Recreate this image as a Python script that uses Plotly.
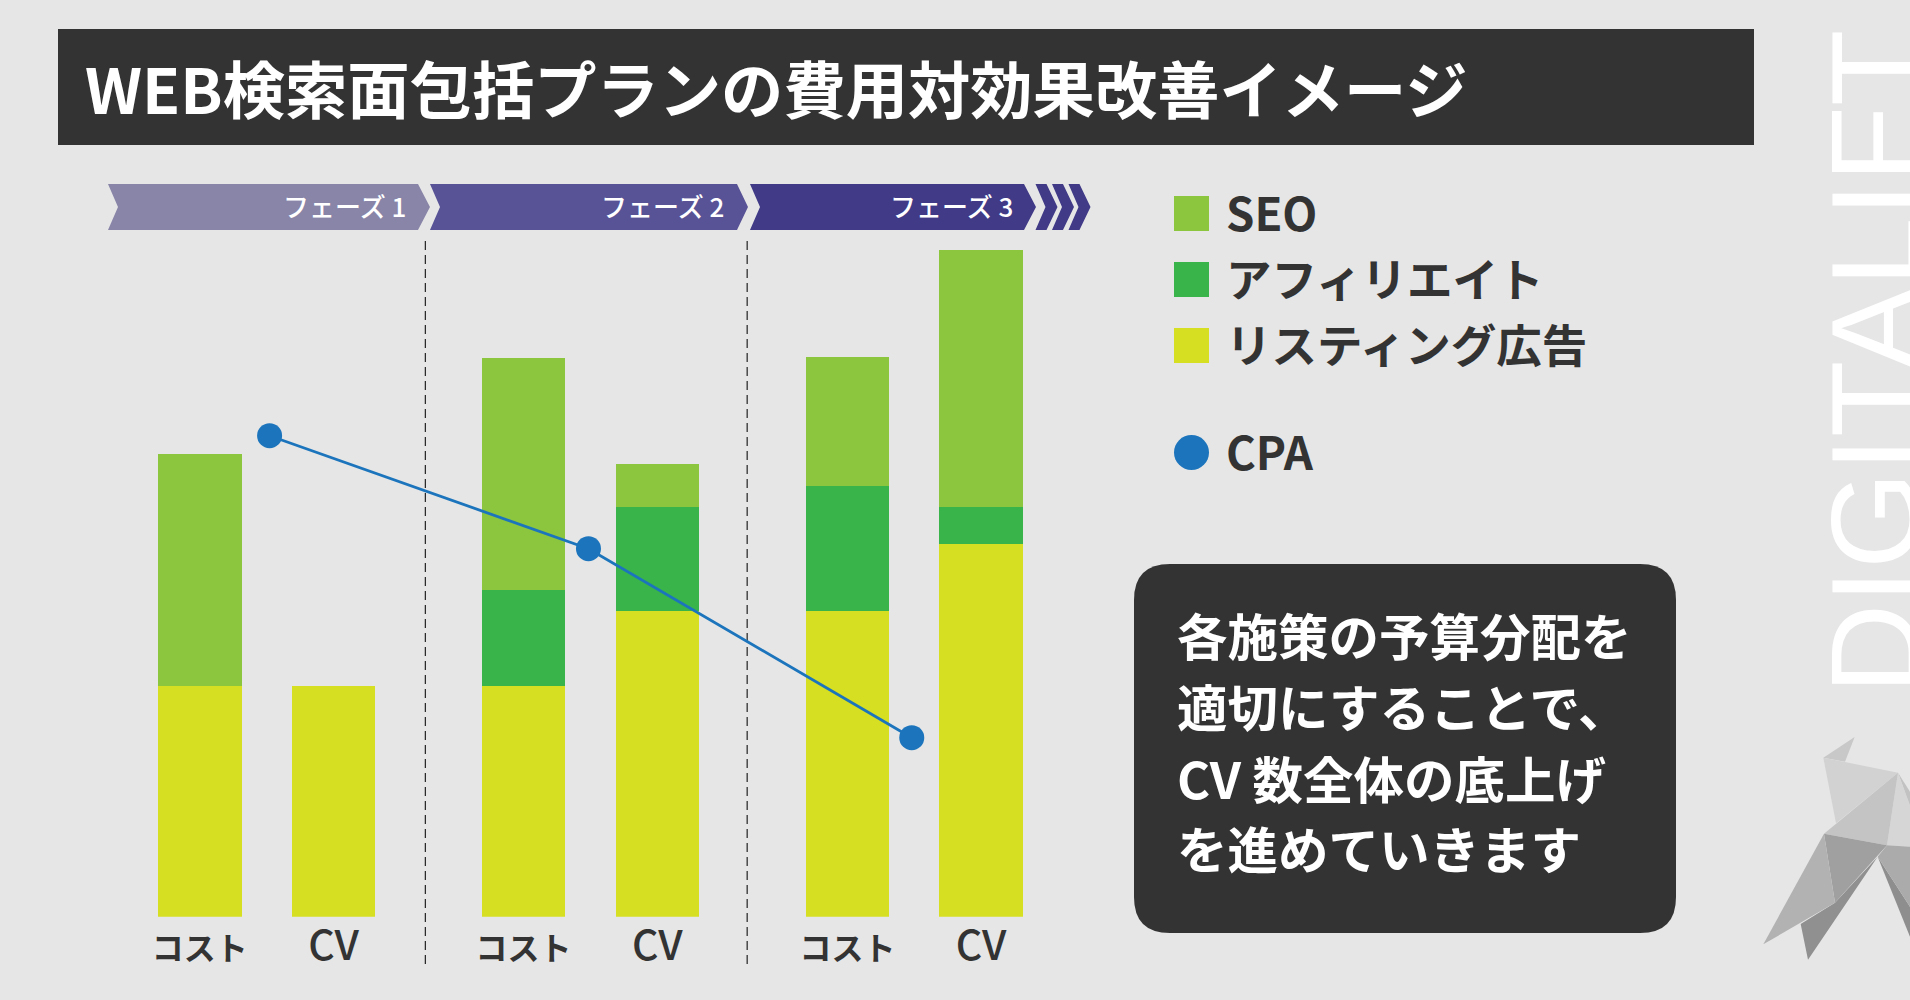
import plotly.graph_objects as go

W, H = 1910, 1000
FONT = "Noto Sans CJK JP"
BG = "#E6E6E6"
DARK = "#333333"

# ---- data (unlabelled value axis) ----
bar_labels = ["コスト", "CV", "コスト", "CV", "コスト", "CV"]
group_index = [0, 0, 1, 1, 2, 2]
bar_index = [0, 1, 0, 1, 0, 1]
listing = [231, 231, 231, 305.5, 305.5, 373]
affiliate = [0, 0, 96, 104, 125.5, 37]
seo = [232, 0, 232, 43.5, 129, 257]
cpa_x = [0.522, 2.907, 5.325]
cpa = [481, 368, 179]
series_names = ["SEO", "アフィリエイト", "リスティング広告"]
series_colors = ["#8CC63F", "#39B44A", "#D6DF21"]
cpa_name = "CPA"
cpa_color = "#1C75BC"
phase_labels = ["フェーズ 1", "フェーズ 2", "フェーズ 3"]
phase_colors = ["#8885A9", "#585396", "#403A87"]
divider_x = [1.687, 4.094]
title_text = "WEB検索面包括プランの費用対効果改善イメージ"
note_lines = ["各施策の予算分配を", "適切にすることで、", "CV 数全体の底上げ", "を進めていきます"]

# ---- scales ----
UNIT = 133.7
X0 = 199.8
PERIOD = 2.422
BASE = 916.7
x_pos = [g * PERIOD + i for g, i in zip(group_index, bar_index)]


def px(x):
    return x / W


def py(y):
    return 1 - y / H


def poly(points):
    return "M " + " L ".join(f"{px(x):.5f},{py(y):.5f}" for x, y in points) + " Z"


def poly_shape(points, color, layer="below"):
    return dict(type="path", xref="paper", yref="paper", path=poly(points),
                fillcolor=color, line=dict(width=0), layer=layer)


def rect(x0, y0, x1, y1, color):
    return dict(type="rect", xref="paper", yref="paper", x0=px(x0), x1=px(x1),
                y0=py(y0), y1=py(y1), fillcolor=color, line=dict(width=0), layer="below")


def text(s, x, y, size, color, anchor="left", weight=500, font=FONT, angle=0):
    return dict(text=s, xref="paper", yref="paper", x=px(x), y=py(y), xanchor=anchor,
                yanchor="middle", showarrow=False, textangle=angle, borderpad=0,
                font=dict(family=font, size=size, color=color, weight=weight))


fig = go.Figure()
for vals, name, color in [(listing, series_names[2], series_colors[2]),
                          (affiliate, series_names[1], series_colors[1]),
                          (seo, series_names[0], series_colors[0])]:
    fig.add_trace(go.Bar(x=x_pos, y=vals, name=name, width=0.625,
                         marker=dict(color=color, line=dict(width=0))))
fig.add_trace(go.Scatter(x=cpa_x, y=cpa, name=cpa_name, mode="lines+markers",
                         line=dict(color=cpa_color, width=2.8),
                         marker=dict(color=cpa_color, size=25)))

shapes = []
annotations = []

# title band
shapes.append(rect(58, 29, 1754, 145, DARK))
annotations.append(text(title_text, 84, 87, 62.3, "#FFFFFF", weight=700))

# phase arrows
TOP, BOT, MID = 184, 230, 207
spans = [(108, 118, 418, 430), (430, 440, 737, 748), (750, 760, 1024, 1036)]
for (l, n, r, t), c in zip(spans, phase_colors):
    shapes.append(poly_shape([(l, TOP), (r, TOP), (t, MID), (r, BOT), (l, BOT), (n, MID)], c))
for off in (0, 16.5, 33):
    l = 1035.5 + off
    shapes.append(poly_shape([(l, TOP), (l + 11, TOP), (l + 22, MID), (l + 11, BOT), (l, BOT),
                              (l + 10, MID)], phase_colors[2]))
for s, right in zip(phase_labels, [407, 725, 1014]):
    annotations.append(text(s, right, 206, 26, "#FFFFFF", anchor="right"))

# dividers between phases
for d in divider_x:
    shapes.append(dict(type="line", xref="x", yref="paper", x0=d, x1=d, y0=py(241), y1=py(964),
                       line=dict(color="#222222", width=1.2, dash="9px,5px"), layer="below"))

# hand-made legend
for y, name, color in zip([196, 262, 328], series_names, series_colors):
    shapes.append(rect(1174, y, 1209, y + 35, color))
    annotations.append(text(name, 1225, y + 15, 45.5, DARK, weight=700))
shapes.append(dict(type="circle", xref="paper", yref="paper", x0=px(1174), x1=px(1209),
                   y0=py(435), y1=py(470), fillcolor=cpa_color, line=dict(width=0), layer="below"))
annotations.append(text(cpa_name, 1225, 450, 45.5, DARK, weight=700))

# note box
bx0, by0, bx1, by1, r = 1134, 564, 1676, 933, 36
shapes.append(dict(
    type="path", xref="paper", yref="paper", fillcolor=DARK, line=dict(width=0), layer="below",
    path=(f"M {px(bx0 + r)},{py(by0)} L {px(bx1 - r)},{py(by0)} "
          f"Q {px(bx1)},{py(by0)} {px(bx1)},{py(by0 + r)} L {px(bx1)},{py(by1 - r)} "
          f"Q {px(bx1)},{py(by1)} {px(bx1 - r)},{py(by1)} L {px(bx0 + r)},{py(by1)} "
          f"Q {px(bx0)},{py(by1)} {px(bx0)},{py(by1 - r)} L {px(bx0)},{py(by0 + r)} "
          f"Q {px(bx0)},{py(by0)} {px(bx0 + r)},{py(by0)} Z")))
for s, y in zip(note_lines, [634, 705, 777, 847]):
    annotations.append(text(s, 1176, y, 50.5, "#FFFFFF", weight=700))

# brand word
annotations.append(text("DIGITALIFT", 1874, 362, 125, "#FFFFFF", anchor="center", weight=400,
                        font="Liberation Sans", angle=-90))

# folded-paper bird
def bird(points):
    return [(1750 + x / 3, 720 + y / 3) for x, y in points]


bird_polys = [
    ([(220, 113), (314, 51), (285, 125)], "#C8C8C8"),
    ([(220, 113), (444, 158), (258, 310)], "#D2D2D2"),
    ([(444, 158), (480, 215), (480, 260)], "#C2C2C2"),
    ([(444, 158), (480, 255), (480, 380), (411, 376)], "#D6D6D6"),
    ([(222, 341), (444, 158), (411, 376)], "#C4C4C4"),
    ([(152, 612), (255, 548), (383, 410), (174, 719)], "#909090"),
    ([(222, 341), (411, 376), (255, 548)], "#A0A0A0"),
    ([(222, 341), (255, 548), (40, 673)], "#B2B2B2"),
    ([(383, 410), (480, 650), (480, 560)], "#8E8E8E"),
    ([(411, 376), (480, 380), (480, 560), (383, 410)], "#ABABAB"),
]
for pts, c in bird_polys:
    shapes.append(poly_shape(bird(pts), c))

tick_text = [f'<span style="font-size:41px;font-weight:500">{s}</span>' if s == "CV" else s
             for s in bar_labels]

fig.update_layout(
    width=W, height=H, autosize=False,
    margin=dict(l=0, r=0, t=0, b=0),
    paper_bgcolor=BG, plot_bgcolor="rgba(0,0,0,0)",
    barmode="stack", bargap=0, showlegend=False,
    font=dict(family=FONT, color=DARK),
    shapes=shapes, annotations=annotations,
    xaxis=dict(domain=[0, 1], range=[-X0 / UNIT, (W - X0) / UNIT], anchor="free",
               position=1 - BASE / H, tickmode="array", tickvals=x_pos, ticktext=tick_text,
               tickfont=dict(family=FONT, size=32, color=DARK, weight=700),
               ticks="outside", ticklen=4, tickcolor="rgba(0,0,0,0)",
               showgrid=False, zeroline=False, showline=False, fixedrange=True),
    yaxis=dict(domain=[1 - BASE / H, 1], range=[0, BASE], visible=False, showgrid=False,
               zeroline=False, fixedrange=True),
)
fig.write_html("out.html", config=dict(displayModeBar=False),
               post_script="document.body.style.margin='0';document.body.style.overflow='hidden';"
                           "document.body.style.background='" + BG + "';")
